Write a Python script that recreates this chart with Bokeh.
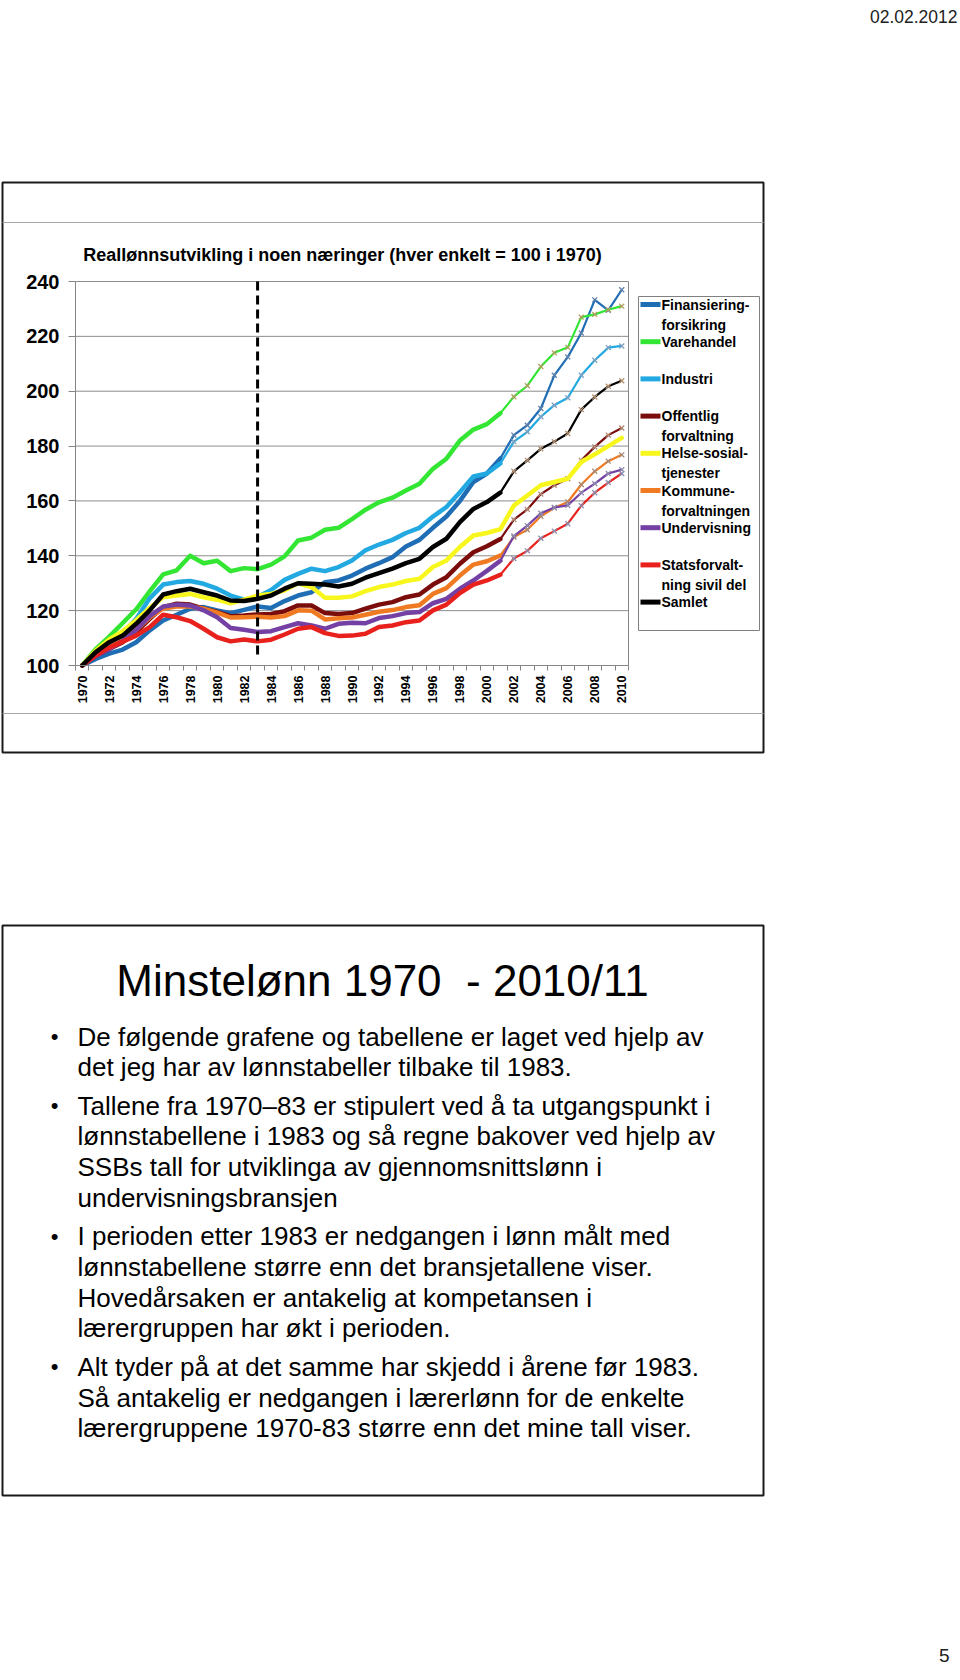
import math
from bokeh.plotting import figure
from bokeh.models import Range1d, FixedTicker, LinearAxis
from bokeh.embed import file_html
from bokeh.resources import INLINE
from bokeh.core.properties import value

# ---------------- data ----------------
years = list(range(1970, 2011))
series_names = ["Finansiering-forsikring", "Varehandel", "Industri", "Offentlig forvaltning",
                "Helse-sosial-tjenester", "Kommune-forvaltningen", "Undervisning",
                "Statsforvaltning sivil del", "Samlet"]
legend_labels = [["Finansiering-", "forsikring"], ["Varehandel"], ["Industri"],
                 ["Offentlig", "forvaltning"], ["Helse-sosial-", "tjenester"],
                 ["Kommune-", "forvaltningen"], ["Undervisning"],
                 ["Statsforvalt-", "ning sivil del"], ["Samlet"]]

finans = [100, 102.4, 104.3, 105.8, 108.5, 112.8, 116.4, 118.5, 120.7, 121.3,
          120.1, 119.1, 120.3, 121.5, 121.0, 123.5, 125.5, 126.7, 130.4, 131.0,
          132.8, 135.3, 137.3, 139.5, 143.4, 145.8, 150.2, 154.3, 160.0, 166.9,
          170.0, 175.5, 184.0, 187.6, 193.7, 205.8, 212.5, 221.2, 233.3, 229.5, 237.0]
varehandel = [100, 106, 110.5, 115.5, 120.5, 127, 133.2, 134.7, 140, 137.3,
              138.2, 134.4, 135.5, 135.1, 136.8, 139.8, 145.6, 146.6, 149.5, 150.2,
              153.4, 156.8, 159.5, 161.2, 163.8, 166.3, 171.7, 175.4, 182, 186,
              188, 192, 198, 202, 209, 214, 216, 227, 228, 229.7, 231]
industri = [100, 104, 108, 111.5, 117, 124.5, 129.5, 130.4, 130.8, 129.8,
            128, 125.5, 124, 125, 127.5, 131.2, 133.4, 135.3, 134.4, 135.9,
            138.3, 142, 144.1, 145.8, 148.3, 150.2, 154.3, 157.8, 163.2, 168.9,
            170, 173.7, 181.6, 185.2, 190.7, 194.9, 197.6, 205.8, 211.3, 215.9, 216.5]
offentlig = [100, 103.6, 106, 108.5, 112.2, 117, 121.3, 122.5, 122.2, 120.7,
             119.5, 118, 118.2, 118.6, 118.8, 119.8, 121.9, 121.9, 119.1, 118.8,
             119.1, 120.7, 122.2, 123.1, 124.9, 125.9, 129.5, 132.2, 137.1, 141.3,
             143.5, 146.1, 153.2, 156.9, 162.5, 165.7, 168.1, 174.8, 179.7, 184.0, 186.6]
helse = [100, 105.5, 109.5, 112.5, 116.5, 121, 124.9, 125.5, 126.1, 124.9,
         124, 122.7, 124, 125.5, 126.1, 127.4, 130, 128.6, 124.7, 124.7,
         125.2, 127.1, 128.6, 129.5, 130.8, 131.6, 135.9, 138.3, 143.2, 147.4,
         148.3, 149.7, 158.3, 162.0, 165.7, 166.9, 168.1, 174.2, 177.0, 180.0, 183.0]
kommune = [100, 103.8, 106.5, 109.5, 113, 117.5, 120.8, 121.5, 121.5, 120.7,
           119.3, 117.5, 117.6, 117.8, 117.5, 118, 120.1, 120, 116.8, 117.2,
           117.5, 118.5, 119.6, 120.2, 121.3, 122, 126.1, 128.2, 132.8, 136.8,
           138, 140.1, 146.8, 149.5, 154.4, 157.5, 159.6, 166.0, 170.8, 174.5, 176.8]
undervisning = [100, 103.5, 106, 109, 113, 118, 121.5, 122.2, 121.9, 120.1,
                117.6, 113.7, 113, 112.2, 112.5, 114, 115.4, 114.6, 113.4, 115.2,
                115.6, 115.4, 117.3, 118, 119.1, 119.5, 122.7, 124.3, 128, 131,
                134.5, 138.2, 147.2, 151.0, 155.5, 157.6, 158.4, 163.0, 166.3, 170, 171.4]
stats = [100, 103.6, 106.5, 108.7, 110.9, 114, 118.5, 117.6, 116.2, 113.4,
         110.3, 108.8, 109.5, 108.8, 109.4, 111.3, 113.4, 114, 111.8, 110.8,
         110.9, 111.6, 114, 114.6, 115.8, 116.4, 120.1, 122.2, 126.4, 129.5,
         131, 133.1, 139.0, 141.8, 146.4, 149.0, 151.7, 158.3, 163.0, 166.7, 170]
samlet = [100, 104.9, 108.5, 110.9, 115.2, 120.1, 125.9, 127.1, 128, 126.7,
          125.5, 123.7, 123.5, 124.3, 125.5, 128, 130, 129.8, 129.5, 128.8,
          129.8, 132, 133.7, 135.3, 137.3, 138.9, 143.2, 146.2, 152.3, 157.1,
          159.6, 163.0, 170.8, 174.8, 179.0, 181.6, 184.6, 193.3, 197.9, 201.8, 203.8]

series_values = [finans, varehandel, industri, offentlig, helse, kommune, undervisning, stats, samlet]
y_ticks = [100, 120, 140, 160, 180, 200, 220, 240]
x_tick_years = list(range(1970, 2011, 2))
BREAK_YEAR = 1983            # dashed line: start of the pay-scale data
BREAK_SPAN = [240, 104]      # vertical extent of the dashed line
THIN_FROM_YEAR = 2001        # later years drawn as thin lines with markers

CHART_TITLE = "Reallønnsutvikling i noen næringer (hver enkelt = 100 i 1970)"
DATE_TEXT = "02.02.2012"
PAGE_NO = "5"
SLIDE_TITLE = "Minstelønn 1970\u00a0\u00a0- 2010/11"
body_lines = [
    "De følgende grafene og tabellene er laget ved hjelp av",
    "det jeg har av lønnstabeller tilbake til 1983.",
    "Tallene fra 1970–83 er stipulert ved å ta utgangspunkt i",
    "lønnstabellene i 1983 og så regne bakover ved hjelp av",
    "SSBs tall for utviklinga av gjennomsnittslønn i",
    "undervisningsbransjen",
    "I perioden etter 1983 er nedgangen i lønn målt med",
    "lønnstabellene større enn det bransjetallene viser.",
    "Hovedårsaken er antakelig at kompetansen i",
    "lærergruppen har økt i perioden.",
    "Alt tyder på at det samme har skjedd i årene før 1983.",
    "Så antakelig er nedgangen i lærerlønn for de enkelte",
    "lærergruppene 1970-83 større enn det mine tall viser.",
]
bullet_flags = [True, False, True, False, False, False, True, False, False, False, True, False, False]

# ---------------- styles ----------------
series_colors = ["#1f6db4", "#33e633", "#22a9e1", "#7a0c0c", "#f7f71e",
                 "#f07a22", "#7540a3", "#e8211d", "#000000"]
marker_colors = ["#5d7fa8", "#b39d62", "#7fa0bf", "#b08a72", None,
                 "#a48a7a", "#8d8aae", "#8a90b2", "#b39070"]
FONT = "Liberation Sans"
GRAY = "#868686"

# ---------------- page figure (page pixel coords, y downward) ----------------
W, H = 960, 1680
p = figure(width=W, height=H, x_range=Range1d(0, W), y_range=Range1d(H, 0),
           output_backend="svg", toolbar_location=None, min_border=0,
           x_axis_location=None, y_axis_location=None)
p.grid.visible = False
p.outline_line_color = None
p.background_fill_color = "white"
p.border_fill_color = "white"

# chart plot-area placement (page px)
FL, FR, FT, FB = 75, 628, 281, 665
X0, X1 = years[0] - 0.5, years[-1] + 0.5
Y0, Y1 = y_ticks[0], y_ticks[-1]
ppx = (FR - FL) / (X1 - X0)
ppy = (FB - FT) / (Y1 - Y0)
p.extra_x_ranges = {"cx": Range1d(X0 - FL / ppx, X0 + (W - FL) / ppx)}
p.extra_y_ranges = {"cy": Range1d(Y0 - (H - FB) / ppy, Y1 + FT / ppy)}
C = dict(x_range_name="cx", y_range_name="cy")

# --- decorations around the chart ---
p.quad(left=[2], right=[763], top=[182], bottom=[752], fill_color=None,
       line_color="#1a1a1a", line_width=2)
p.multi_line(xs=[[2, 763], [2, 763]], ys=[[222, 222], [713, 713]], line_color="#a6a6a6", line_width=1)
p.text(x=[342], y=[254], text=[CHART_TITLE], text_align="center", text_baseline="middle",
       text_font=value(FONT), text_font_size="18px", text_font_style="bold", text_color="#000000")

# --- chart grid / frame ---
grid_ticks = y_ticks[1:]
p.multi_line(xs=[[X0, X1] for _ in grid_ticks], ys=[[t, t] for t in grid_ticks],
             line_color="#8c8c8c", line_width=1, **C)
p.line([X1, X1], [Y0, Y1], line_color=GRAY, line_width=1, **C)

# --- series ---
i_thin = years.index(THIN_FROM_YEAR)
for vals, col, mcol in zip(series_values, series_colors, marker_colors):
    if mcol is None:
        p.line(years, vals, line_color=col, line_width=4.5, line_join="round", line_cap="round", **C)
        continue
    p.line(years[:i_thin + 1], vals[:i_thin + 1], line_color=col, line_width=4.5,
           line_join="round", line_cap="round", **C)
    p.line(years[i_thin:], vals[i_thin:], line_color=col, line_width=2.2, line_join="round", **C)
    p.scatter(years[i_thin + 1:], vals[i_thin + 1:], marker="x", size=7, line_color=mcol,
              line_width=1.3, **C)

p.line([BREAK_YEAR, BREAK_YEAR], BREAK_SPAN, line_color="#000000", line_width=3,
       line_dash="9 5", **C)

# --- axes ---
yax = LinearAxis(fixed_location=X0, bounds=(Y0, Y1), ticker=FixedTicker(ticks=y_ticks), **C)
yax.axis_line_color = GRAY
yax.major_tick_line_color = GRAY
yax.major_tick_out = 7
yax.major_tick_in = 0
yax.minor_tick_line_color = None
yax.major_label_standoff = 9
yax.major_label_text_font = FONT
yax.major_label_text_font_size = "20px"
yax.major_label_text_font_style = "bold"
yax.major_label_text_color = "#000000"
p.add_layout(yax, "left")

xax = LinearAxis(fixed_location=Y0, bounds=(X0, X1),
                 ticker=FixedTicker(ticks=x_tick_years,
                                    minor_ticks=[y - 0.5 for y in years] + [years[-1] + 0.5]), **C)
xax.axis_line_color = GRAY
xax.major_tick_line_color = None
xax.major_tick_out = 5
xax.major_tick_in = 0
xax.minor_tick_line_color = GRAY
xax.minor_tick_out = 5
xax.minor_tick_in = 0
xax.major_label_orientation = math.pi / 2
xax.major_label_standoff = 5
xax.major_label_text_font = FONT
xax.major_label_text_font_size = "12.5px"
xax.major_label_text_font_style = "bold"
xax.major_label_text_color = "#000000"
p.add_layout(xax, "below")

# --- legend ---
p.quad(left=[638], right=[759], top=[296], bottom=[630], fill_color=None,
       line_color="#808080", line_width=1)
lg_x, lg_y, lg_txt = [], [], []
for i, (lab, col) in enumerate(zip(legend_labels, series_colors)):
    ly = 304 + 37.2 * i
    p.line([640, 660], [ly, ly], line_color=col, line_width=5)
    for k, part in enumerate(lab):
        lg_x.append(661)
        lg_y.append(ly + 20 * k)
        lg_txt.append(part)
p.text(x=lg_x, y=lg_y, text=lg_txt, text_align="left", text_baseline="middle",
       text_font=value(FONT), text_font_size="14px", text_font_style="bold", text_color="#000000")

# --- header / footer ---
p.text(x=[957], y=[16], text=[DATE_TEXT], text_align="right", text_baseline="middle",
       text_font=value(FONT), text_font_size="17.5px", text_color="#222222")
p.text(x=[949], y=[1655], text=[PAGE_NO], text_align="right", text_baseline="middle",
       text_font=value(FONT), text_font_size="19px", text_color="#222222")

# --- text slide ---
p.quad(left=[2], right=[763], top=[925], bottom=[1495], fill_color=None,
       line_color="#1a1a1a", line_width=2)
p.text(x=[382], y=[980], text=[SLIDE_TITLE], text_align="center", text_baseline="middle",
       text_font=value(FONT), text_font_size="44px", text_color="#000000")
line_y = []
yy = 1036.0
for i, flag in enumerate(bullet_flags):
    if i > 0:
        yy += 38.5 if flag else 30.7
    line_y.append(yy)
p.text(x=[77] * len(body_lines), y=line_y, text=body_lines, text_align="left", text_baseline="middle",
       text_font=value(FONT), text_font_size="26px", text_color="#000000")
bx = [54 for f in bullet_flags if f]
by = [v for v, f in zip(line_y, bullet_flags) if f]
p.text(x=bx, y=by, text=["•"] * len(bx), text_align="center", text_baseline="middle",
       text_font=value(FONT), text_font_size="22px", text_color="#000000")

open("out.html", "w").write(file_html(p, INLINE))
